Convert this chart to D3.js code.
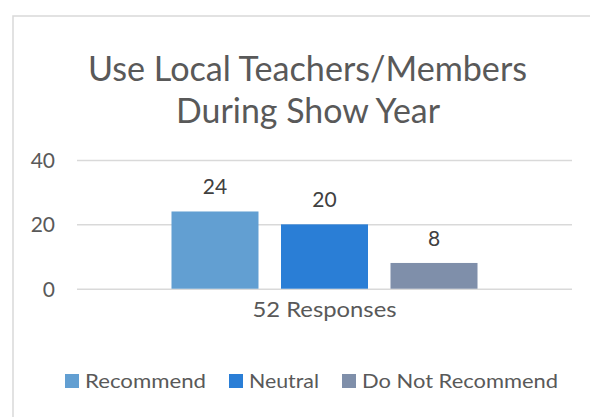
<!DOCTYPE html>
<html>
<head>
<meta charset="utf-8">
<script src="https://cdn.jsdelivr.net/npm/d3@7"></script>
<style>
  html, body { margin: 0; padding: 0; background: #fff; }
  svg { display: block; }
  text { font-family: Lato, "Open Sans", sans-serif; fill: #595959; }
</style>
</head>
<body>
<svg id="chart" width="590" height="417"></svg>
<script>
const titleLines = ["Use Local Teachers/Members", "During Show Year"];
const categories = ["52 Responses"];
const seriesNames = ["Recommend", "Neutral", "Do Not Recommend"];
const seriesValues = [24, 20, 8];
const seriesColors = ["#629fd2", "#2a7ed6", "#7f8faa"];
const yTicks = [0, 20, 40];

const svg = d3.select("#chart");

// chart border (only top & left visible in frame)
svg.append("rect")
  .attr("x", 13).attr("y", 16)
  .attr("width", 620).attr("height", 440)
  .attr("fill", "none").attr("stroke", "#d9d9d9").attr("stroke-width", 1.5);

function fit(sel, targetW, base, stretch) {
  sel.style("font-size", base + "px");
  const w = sel.node().getComputedTextLength();
  if (stretch) {
    sel.attr("textLength", targetW).attr("lengthAdjust", "spacingAndGlyphs");
  } else {
    sel.style("font-size", (base * targetW / w).toFixed(2) + "px");
  }
  return sel;
}

// title
const titleSpecs = [{cx: 307.5, y: 81, w: 439}, {cx: 308, y: 123, w: 264}];
titleLines.forEach((t, i) => {
  const s = svg.append("text")
    .attr("x", titleSpecs[i].cx).attr("y", titleSpecs[i].y)
    .attr("text-anchor", "middle").text(t);
  fit(s, titleSpecs[i].w, 35, true);
});

// scales
const plotL = 77, plotR = 572;
const y = d3.scaleLinear().domain([0, 40]).range([288.7, 160]);
const x0 = d3.scaleBand().domain(categories).range([plotL, plotR]).paddingInner(0).paddingOuter(0.3088);
const x1 = d3.scaleBand().domain(seriesNames).range([0, x0.bandwidth()]).paddingInner(0.2055).paddingOuter(0);

// gridlines
const yAxis = d3.axisLeft(y).tickValues(yTicks).tickSize(-(plotR - plotL)).tickPadding(22).tickFormat(d3.format("d"));
const ga = svg.append("g").attr("transform", `translate(${plotL},0)`).call(yAxis);
ga.select(".domain").remove();
ga.selectAll(".tick line").attr("stroke", "#d9d9d9").attr("stroke-width", 1.5);
ga.selectAll(".tick text")
  .attr("fill", "#595959").attr("dy", "0.36em")
  .style("font-family", "Lato, sans-serif").style("font-size", "21px");

// bars
const g = svg.append("g").attr("transform", `translate(${x0(categories[0])},0)`);
g.selectAll("rect.bar").data(seriesValues).join("rect")
  .attr("class", "bar")
  .attr("x", (d, i) => x1(seriesNames[i]))
  .attr("y", d => y(d))
  .attr("width", x1.bandwidth())
  .attr("height", d => y(0) - y(d))
  .attr("fill", (d, i) => seriesColors[i]);

g.selectAll("text.lbl").data(seriesValues).join("text")
  .attr("class", "lbl")
  .attr("x", (d, i) => x1(seriesNames[i]) + x1.bandwidth() / 2)
  .attr("y", d => y(d) - 17)
  .attr("text-anchor", "middle")
  .style("font-size", "21px")
  .style("fill", "#404040")
  .text(d => d);

// category label
const cat = svg.append("text")
  .attr("x", x0(categories[0]) + x0.bandwidth() / 2).attr("y", 317)
  .attr("text-anchor", "middle").text(categories[0]);
fit(cat, 144, 21, true);

// legend
const legendSpecs = [
  {sx: 65, tx: 85, w: 121},
  {sx: 229, tx: 249, w: 70},
  {sx: 342, tx: 362, w: 196}
];
seriesNames.forEach((n, i) => {
  svg.append("rect")
    .attr("x", legendSpecs[i].sx).attr("y", 374)
    .attr("width", 14).attr("height", 14)
    .attr("fill", seriesColors[i]);
  const t = svg.append("text")
    .attr("x", legendSpecs[i].tx).attr("y", 388).text(n);
  fit(t, legendSpecs[i].w, 20, true);
});
</script>
</body>
</html>
